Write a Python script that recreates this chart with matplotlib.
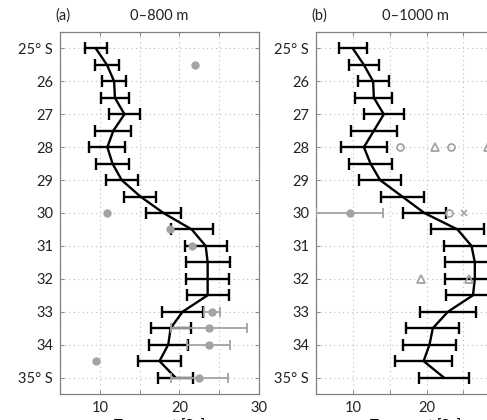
import numpy as np
import matplotlib
matplotlib.use("Agg")
import matplotlib.pyplot as plt

plt.rcParams["font.family"] = ["Lato", "DejaVu Sans"]

lat = [25, 25.5, 26, 26.5, 27, 27.5, 28, 28.5, 29, 29.5, 30,
       30.5, 31, 31.5, 32, 32.5, 33, 33.5, 34, 34.5, 35]
ytick_vals = [25, 26, 27, 28, 29, 30, 31, 32, 33, 34, 35]
ytick_labels = ["25° S", "26", "27", "28", "29", "30", "31", "32", "33", "34", "35° S"]
xtick_vals = [5, 10, 15, 20, 25, 30]
xtick_labels = ["", "10", "", "20", "", "30"]

# panel (a): 0-800 m
a_mean = [9.5, 10.9, 11.8, 11.9, 13.1, 11.7, 10.95, 11.6, 12.75, 15.1, 18.0,
          21.55, 23.3, 23.55, 23.55, 23.55, 20.4, 18.9, 18.6, 17.5, 19.5]
a_err = [1.4, 1.45, 1.5, 1.8, 2.0, 2.25, 2.25, 2.05, 2.0, 2.0, 2.25,
         2.65, 2.65, 2.75, 2.7, 2.65, 2.6, 2.5, 2.45, 2.7, 2.15]
a_dot_lat = [25.5, 30, 30.5, 31, 34.5]
a_dot_val = [21.9, 10.9, 18.8, 21.6, 9.5]
a_bar_lat = [33, 33.5, 34, 35]
a_bar_val = [24.1, 23.7, 23.7, 22.5]
a_bar_err = [1.0, 4.8, 2.7, 3.6]

# panel (b): 0-1000 m
b_mean = [10.0, 11.5, 12.75, 12.85, 14.2, 12.85, 11.5, 12.4, 13.7, 16.7, 19.7,
          24.2, 26.1, 26.55, 26.55, 26.3, 22.9, 20.85, 20.4, 19.6, 22.35]
b_err = [1.9, 2.0, 2.1, 2.5, 2.7, 3.1, 3.1, 2.95, 2.9, 2.9, 2.9,
         3.65, 3.75, 4.0, 4.0, 3.7, 3.75, 3.6, 3.55, 3.9, 3.35]
b_bar_lat = [30]
b_bar_val = [9.55]
b_bar_err = [4.5]
b_circ_lat = [28, 28, 30]
b_circ_val = [16.4, 23.25, 23.1]
b_tri_lat = [28, 28, 32, 32]
b_tri_val = [21.1, 28.3, 19.25, 25.8]
b_x_lat = [30]
b_x_val = [25.1]

gray = "#a3a3a3"

fig = plt.figure(figsize=(4.87, 4.2), dpi=100)
ax_a = fig.add_axes([60 / 487, 1 - 394 / 420, 199 / 487, 362 / 420])
ax_b = fig.add_axes([316 / 487, 1 - 394 / 420, 199 / 487, 362 / 420])


def style(ax, xmax, title, tag, xlabels):
    ax.set_ylim(35.5, 24.5)
    ax.set_xlim(5, xmax)
    ax.set_yticks(ytick_vals)
    ax.set_yticklabels(ytick_labels)
    ax.set_xticks(xtick_vals)
    ax.set_xticklabels(xlabels)
    ax.tick_params(direction="in", length=3, width=0.6, color="#777777",
                   top=True, right=True, labelsize=10.5, labelcolor="#222222", pad=5)
    ax.grid(True, linestyle=(0, (1, 3)), color="#bdbdbd", linewidth=0.8)
    ax.set_axisbelow(True)
    for s in ax.spines.values():
        s.set_color("#808080")
        s.set_linewidth(0.9)
    ax.set_title(title, fontsize=10.5, pad=9, color="#222222")
    ax.text(-0.025, 1.025, tag, transform=ax.transAxes, fontsize=10.5,
            va="bottom", ha="left", color="#222222")
    ax.set_xlabel("Transport [Sv]", fontsize=10.5, labelpad=2)


# (a)
ax_a.errorbar(a_mean, lat, xerr=a_err, color="black", lw=1.7, capsize=4.3,
              capthick=1.7, elinewidth=1.7, zorder=3)
ax_a.errorbar(a_bar_val, a_bar_lat, xerr=a_bar_err, fmt="o", color=gray, ms=5,
              lw=1.3, capsize=3.5, capthick=1.3, elinewidth=1.3, zorder=4)
ax_a.plot(a_dot_val, a_dot_lat, "o", color=gray, ms=5, zorder=4)
style(ax_a, 30, "0–800 m", "(a)", xtick_labels)

# (b)
ax_b.errorbar(b_mean, lat, xerr=b_err, color="black", lw=1.7, capsize=4.3,
              capthick=1.7, elinewidth=1.7, zorder=3)
ax_b.errorbar(b_bar_val, b_bar_lat, xerr=b_bar_err, fmt="o", color=gray, ms=5,
              lw=1.3, capsize=3.5, capthick=1.3, elinewidth=1.3, zorder=4)
ax_b.plot(b_circ_val, b_circ_lat, "o", mfc="none", mec=gray, mew=1.3, ms=5, zorder=4)
ax_b.plot(b_tri_val, b_tri_lat, "^", mfc="none", mec=gray, mew=1.3, ms=6, zorder=4)
ax_b.plot(b_x_val, b_x_lat, "x", color=gray, mew=1.2, ms=4, zorder=4)
style(ax_b, 32, "0–1000 m", "(b)", xtick_labels[:5] + [""])

fig.savefig("out.png", dpi=100)
